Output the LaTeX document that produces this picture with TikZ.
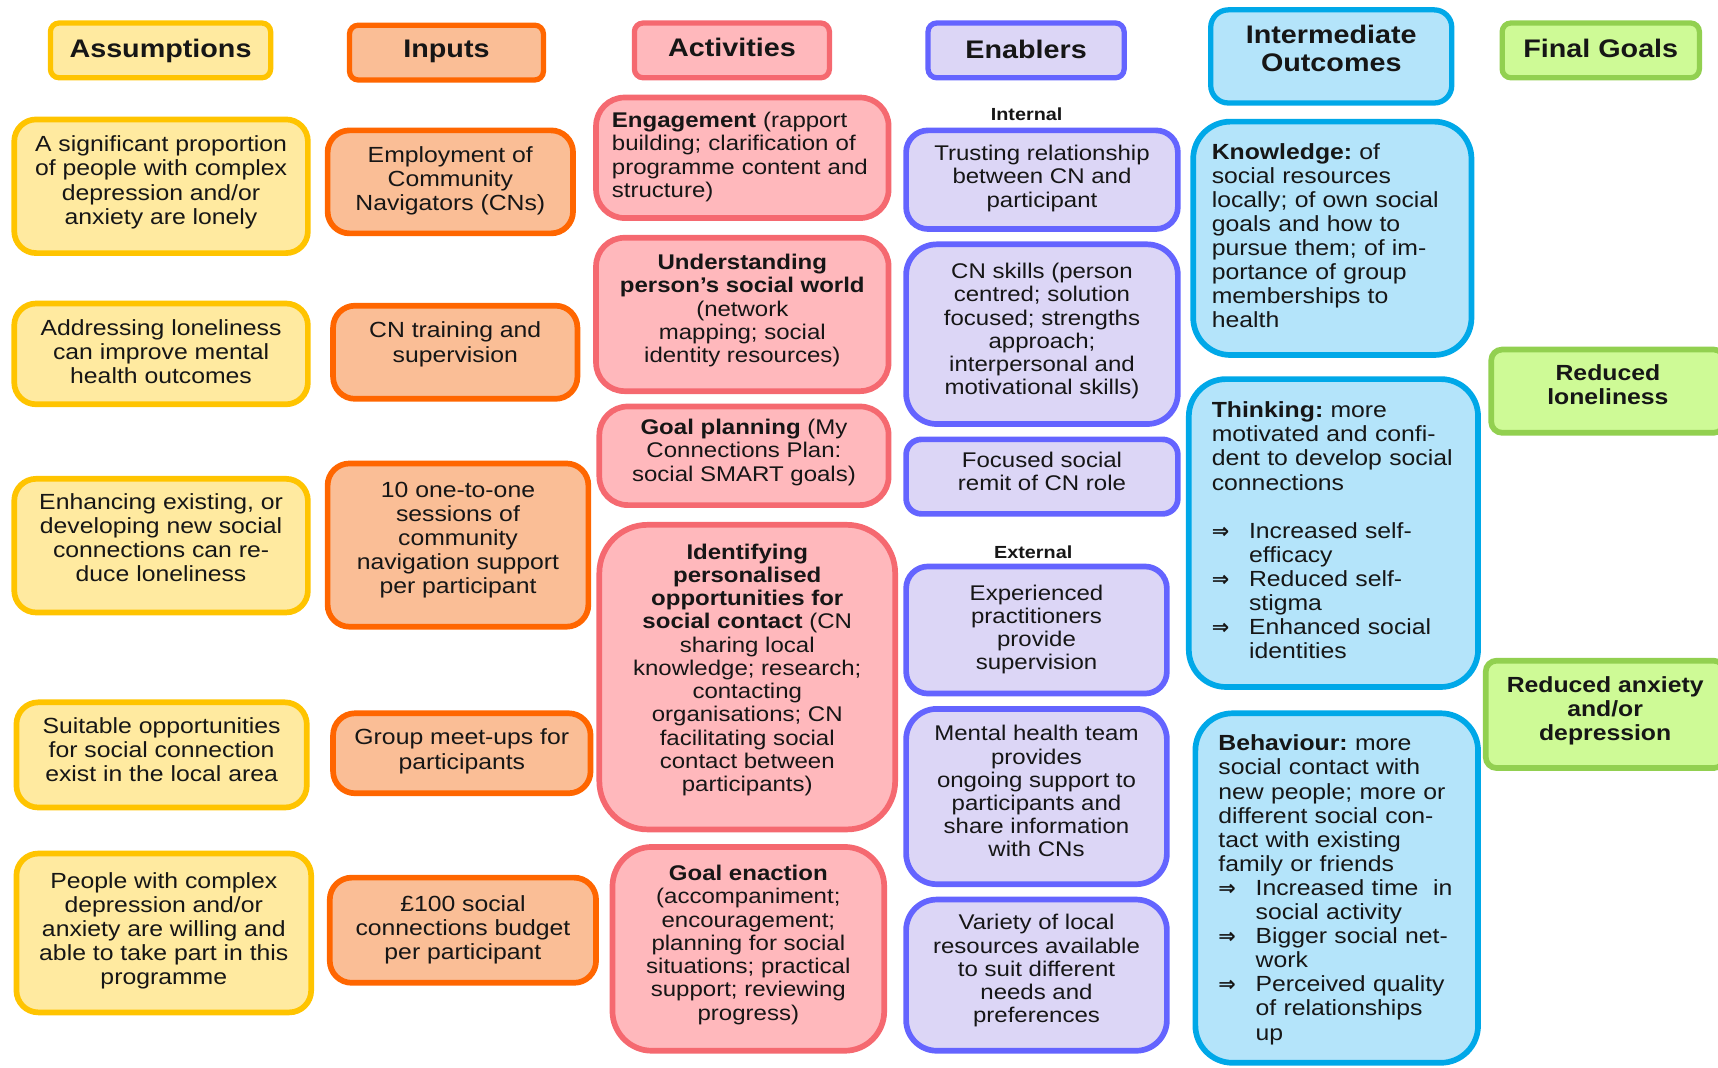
\documentclass[tikz,border=0pt]{standalone}
\usepackage{fontspec}
\setmainfont{Liberation Sans}[FakeStretch=1.13]
\newfontfamily\symfont{DejaVu Sans}
\usetikzlibrary{fit}
\frenchspacing

\definecolor{asmline}{RGB}{255,196,0}
\definecolor{asmfill}{RGB}{255,234,160}
\definecolor{inpline}{RGB}{255,102,0}
\definecolor{inpfill}{RGB}{250,190,150}
\definecolor{actline}{RGB}{245,105,112}
\definecolor{actfill}{RGB}{255,184,188}
\definecolor{enaline}{RGB}{100,100,255}
\definecolor{enafill}{RGB}{220,214,246}
\definecolor{outbline}{RGB}{0,168,232}
\definecolor{outbfill}{RGB}{180,228,250}
\definecolor{golline}{RGB}{146,208,80}
\definecolor{golfill}{RGB}{206,250,150}
\definecolor{ink}{RGB}{22,22,22}

% bullet arrow with a hanging indent for the outcome lists
\newcommand{\arr}{\makebox[17pt][l]{\symfont\bfseries\fontsize{9.5}{10}\selectfont ⇒}}
\newcommand{\ind}{\hspace*{17pt}}

% a framed cell: box from two corners, then its text, nudged vertically
\newcommand{\cell}[6]{%
  \node[#1, fit={#3}] (#2) {};
  \node[#4, yshift=#5pt] (#2-text) at (#2.center) {#6};}

\tikzset{
  box/.style={draw, line width=2.6pt, inner sep=0pt},
  head/.style={box, line width=2.4pt, rounded corners=4pt},
  asm/.style={box, draw=asmline, fill=asmfill, rounded corners=10pt},
  inp/.style={box, draw=inpline, fill=inpfill, rounded corners=10pt},
  act/.style={box, draw=actline, fill=actfill, rounded corners=13pt},
  ena/.style={box, draw=enaline, fill=enafill, rounded corners=10pt},
  outc/.style={box, draw=outbline, fill=outbfill, rounded corners=17pt},
  gol/.style={box, draw=golline, fill=golfill, rounded corners=5pt},
  txt/.style={text=ink, inner sep=0pt, align=center, font=\fontsize{10}{11}\selectfont},
  small/.style={txt, font=\fontsize{9.7}{10.6}\selectfont},
  leftt/.style={txt, align=left},
  headt/.style={txt, font=\fontsize{11.6}{13}\selectfont\bfseries},
  goalt/.style={txt, font=\fontsize{10}{11}\selectfont\bfseries},
  sublabel/.style={text=ink, font=\fontsize{8}{9}\selectfont\bfseries, inner sep=0pt},
}

\begin{document}
\begin{tikzpicture}[x=0.5pt, y=-0.5pt]
\useasboundingbox (0,0) rectangle (1568,974);
\clip (0,0) rectangle (1568,974);

% column headings
\cell{head, draw=asmline, fill=asmfill}{hA}{(46,21) (247,71)}{headt}{-0.2}{Assumptions}
\cell{head, draw=inpline, fill=inpfill}{hI}{(319,23) (496,73)}{headt}{0.6}{Inputs}
\cell{head, draw=actline, fill=actfill}{hAc}{(579,21) (757,71)}{headt}{1.4}{Activities}
\cell{head, draw=enaline, fill=enafill}{hE}{(847,21) (1026,71)}{headt}{0.6}{Enablers}
\cell{head, draw=outbline, fill=outbfill, rounded corners=8pt}{hO}{(1105,9) (1325,94)}{headt}{3.6}{Intermediate\\Outcomes}
\cell{head, draw=golline, fill=golfill}{hG}{(1371,21) (1551,71)}{headt}{0.8}{Final Goals}

% assumptions
\cell{asm}{a1}{(13,109) (281,231)}{txt}{1.8}{A significant proportion\\of people with complex\\depression and/or\\anxiety are lonely}
\cell{asm}{a2}{(13,277) (281,369)}{txt}{1.1}{Addressing loneliness\\can improve mental\\health outcomes}
\cell{asm}{a3}{(13,437) (281,559)}{txt}{3.5}{Enhancing existing, or\\developing new social\\connections can re-\\duce loneliness}
\cell{asm}{a4}{(15,641) (280,737)}{txt}{2.4}{Suitable opportunities\\for social connection\\exist in the local area}
\cell{asm}{a5}{(15,779) (284,924)}{txt}{1.0}{People with complex\\depression and/or\\anxiety are willing and\\able to take part in this\\programme}

% inputs
\cell{inp}{i1}{(299,119) (523,213)}{txt}{0.5}{Employment of\\Community\\Navigators (CNs)}
\cell{inp}{i2}{(304,279) (527,364)}{txt}{3.6}{CN training and\\supervision}
\cell{inp}{i3}{(299,423) (537,572)}{txt}{2.4}{10 one-to-one\\sessions of\\community\\navigation support\\per participant}
\cell{inp}{i4}{(304,651) (539,724)}{txt}{0.9}{Group meet-ups for\\participants}
\cell{inp}{i5}{(301,801) (544,897)}{txt}{0.0}{£100 social\\connections budget\\per participant}

% activities
\cell{act}{c1}{(544,89) (811,199)}{small, align=left, text width=119pt}{0.4}{\textbf{Engagement} (rapport\\building; clarification of\\programme content and\\structure)}
\cell{act}{c2}{(544,217) (811,357)}{small}{1.7}{\textbf{Understanding}\\\textbf{person’s social world}\\(network\\mapping; social\\identity resources)}
\cell{act}{c3}{(547,371) (811,461)}{small}{1.6}{\textbf{Goal planning} (My\\Connections Plan:\\social SMART goals)}
\cell{act, rounded corners=22pt}{c4}{(547,479) (817,757)}{small}{3.3}{\textbf{Identifying}\\\textbf{personalised}\\\textbf{opportunities for}\\\textbf{social contact} (CN\\sharing local\\knowledge; research;\\contacting\\organisations; CN\\facilitating social\\contact between\\participants)}
\cell{act, rounded corners=18pt}{c5}{(559,773) (807,959)}{small}{1.8}{\textbf{Goal enaction}\\(accompaniment;\\encouragement;\\planning for social\\situations; practical\\support; reviewing\\progress)}

% enablers
\node[sublabel] (lint) at (937,104) {Internal};
\cell{ena}{e1}{(827,119) (1075,209)}{small}{0.6}{Trusting relationship\\between CN and\\participant}
\cell{ena, rounded corners=14pt}{e2}{(827,223) (1075,387)}{small}{1.4}{CN skills (person\\centred; solution\\focused; strengths\\approach;\\interpersonal and\\motivational skills)}
\cell{ena, rounded corners=7pt}{e3}{(827,401) (1075,469)}{small}{2.5}{Focused social\\remit of CN role}
\node[sublabel] (lext) at (943,504) {External};
\cell{ena}{e4}{(827,517) (1065,633)}{small}{0.3}{Experienced\\practitioners\\provide\\supervision}
\cell{ena, rounded corners=14pt}{e5}{(827,647) (1065,807)}{small}{2.4}{Mental health team\\provides\\ongoing support to\\participants and\\share information\\with CNs}
\cell{ena, rounded corners=14pt}{e6}{(827,821) (1065,959)}{small}{2.0}{Variety of local\\resources available\\to suit different\\needs and\\preferences}

% intermediate outcomes
\cell{outc}{o1}{(1089,111) (1343,324)}{leftt, text width=110pt}{1.2}{\textbf{Knowledge:} of\\social resources\\locally; of own social\\goals and how to\\pursue them; of im-\\portance of group\\memberships to\\health}
\cell{outc}{o2}{(1085,346) (1349,627)}{leftt, text width=111pt}{1.2}{\textbf{Thinking:} more\\motivated and confi-\\dent to develop social\\connections\\[11pt]\arr Increased self-\\\ind efficacy\\\arr Reduced self-\\\ind stigma\\\arr Enhanced social\\\ind identities}
\cell{outc}{o3}{(1091,651) (1349,970)}{leftt, text width=108pt}{-0.8}{\textbf{Behaviour:} more\\social contact with\\new people; more or\\different social con-\\tact with existing\\family or friends\\\arr Increased time~ in\\\ind social activity\\\arr Bigger social net-\\\ind work\\\arr Perceived quality\\\ind of relationships\\\ind up}

% final goals
\cell{gol}{g1}{(1361,319) (1574,395)}{goalt}{3.0}{Reduced\\loneliness}
\cell{gol}{g2}{(1356,603) (1574,701)}{goalt}{1.5}{Reduced anxiety\\and/or\\depression}
\end{tikzpicture}
\end{document}
